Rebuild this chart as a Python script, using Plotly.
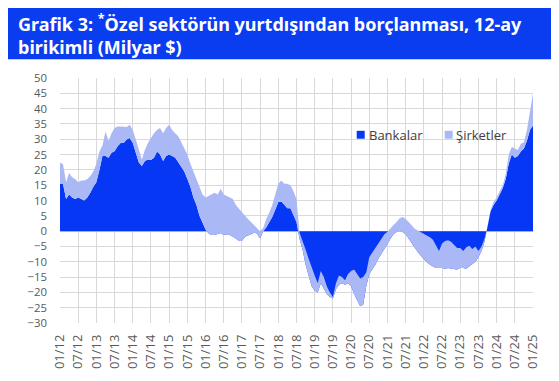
import plotly.graph_objects as go

# Monthly index 0 = 01/12 ... 156 = 01/25
tick_labels = ["01/12", "07/12", "01/13", "07/13", "01/14", "07/14", "01/15", "07/15",
               "01/16", "07/16", "01/17", "07/17", "01/18", "07/18", "01/19", "07/19",
               "01/20", "07/20", "01/21", "07/21", "01/22", "07/22", "01/23", "07/23",
               "01/24", "07/24", "01/25"]

# Lower edge of the light band (dark area reaches from zero to this edge)
bankalar = [
    15.4, 15.4, 10.5, 12, 11, 10.5, 11, 10.5, 10, 11, 12.5, 14.5,
    16, 20, 24.5, 24.5, 24, 25.6, 26.1, 27.7, 28.8, 28.8, 29.9, 30.4,
    28.8, 25.6, 22.4, 21.3, 22.9, 23.4, 23.2, 24, 26, 25, 22.9, 24.5,
    25, 24.5, 24, 22.5, 21, 19.5, 17, 14.5, 11, 8.5, 5, 2.5,
    0.5, -0.8, -1.3, -1.3, -1, -0.6, -1.3, -1, -1.3, -1.8, -2.4, -3.2,
    -3.2, -1.8, -1.5, -1, -0.5, -0.8, -2.4, 0, 1.2, 3, 4.6, 7,
    9.5, 9.7, 8.5, 7.5, 7.5, 5.5, 3, -2.5, -6, -11, -15, -18,
    -19.5, -20, -17, -19, -20.5, -21.5, -22, -19, -17.5, -17, -17.5, -17,
    -18, -20.5, -22.5, -24.5, -24, -18, -14, -12.5, -11, -9, -7.5, -6,
    -4.2, -2.5, -1, -0.3, 0, -0.3, -1, -2.5, -4, -5.5, -6.8, -8,
    -9.2, -10.2, -11, -11.5, -12, -12, -12, -12.3, -12, -12.3, -12.5, -12.5,
    -12, -12, -12.3, -11.5, -11, -10, -8.5, -6.5, -3.5, 1, 6.5, 8.5,
    10, 12, 14, 17, 22, 25, 24, 24.5, 26, 27, 29.5, 33,
    34.5,
]

# Upper edge of the light band (cumulative total)
toplam = [
    22.4, 21.8, 16, 19, 17.6, 17, 16, 16.5, 16.5, 17, 18, 19.5,
    22, 26, 28, 32.5, 29.5, 32, 33.7, 34.2, 34.2, 34, 34, 34.7,
    33, 29.9, 26.7, 23.4, 26.5, 28.8, 30.4, 32, 33, 33.7, 32, 33.7,
    34.7, 33, 32, 31, 29, 27, 25, 22, 19.5, 17, 14, 12,
    11, 11.5, 11.8, 12.5, 12, 13.8, 12, 11.5, 11, 10.5, 8.5, 7.3,
    6, 5, 4, 3, 2, 0.8, 0, 1, 4, 6, 8.5, 12,
    15.5, 16.5, 15.5, 15.5, 15, 13, 10.5, -0.5, -3, -6, -9, -12,
    -14.5, -17, -13, -15, -18, -20, -21.5, -17, -14.5, -15, -16, -14,
    -13, -12.5, -14, -15.5, -15, -13.5, -8.5, -7, -5.5, -4, -2.5, -1,
    -0.2, 1, 2, 3, 4.2, 4.6, 4, 3, 1.8, 0.8, 0.2, -0.3,
    -1, -1.5, -2, -2.8, -4.5, -6.5, -4, -3.2, -3, -3.5, -4.5, -5.5,
    -5.5, -6.5, -5.3, -4.8, -5.8, -5, -6.5, -5, -2.5, 1.5, 7, 9.5,
    11, 13, 15, 18.5, 25, 27.5, 27, 26.5, 28.5, 29, 33, 38.5,
    45,
]

sirketler = [round(t - b, 2) for t, b in zip(toplam, bankalar)]

months = list(range(len(bankalar)))
tick_vals = list(range(0, len(bankalar), 6))

DARK = "#0537F4"
LIGHT = "#AAB9F6"
BAR = "#0A3CF0"

fig = go.Figure()
fig.add_trace(go.Scatter(
    x=months, y=bankalar, name="Bankalar", mode="lines",
    line=dict(width=0, color=DARK), fill="tozeroy", fillcolor=DARK,
    showlegend=False,
))
fig.add_trace(go.Scatter(
    x=months, y=[b + s for b, s in zip(bankalar, sirketler)], name="Şirketler",
    mode="lines", line=dict(width=0, color=LIGHT), fill="tonexty", fillcolor=LIGHT,
    showlegend=False,
))

# page body has an 8px margin, so work in coordinates shifted by 8px
OFF = 8
W, H = 559 - OFF, 381 - OFF
L, R, T, B = 60.3 - OFF, 533.3 - OFF, 77.5 - OFF, 325.7 - OFF
pw, ph = R - L, B - T


def px(x):
    return (x - OFF - L) / pw


def py(y):
    return (B - (y - OFF)) / ph


shapes = [
    dict(type="rect", xref="paper", yref="paper", x0=px(4), x1=px(555),
         y0=py(58.5), y1=py(5), fillcolor=BAR, line=dict(width=0), layer="below"),
    dict(type="rect", xref="paper", yref="paper", x0=px(357), x1=px(365),
         y0=py(139), y1=py(131), fillcolor=DARK, line=dict(width=0)),
    dict(type="rect", xref="paper", yref="paper", x0=px(445), x1=px(453),
         y0=py(139), y1=py(131), fillcolor=LIGHT, line=dict(width=0)),
]

title_font = dict(family="Noto Sans", size=18, color="white", weight="bold")
legend_font = dict(family="Open Sans", size=13, color="#404040")
annotations = [
    dict(text="Grafik 3: <sup>*</sup>Özel sektörün yurtdışından borçlanması, 12-ay"
              "<br>birikimli (Milyar $)",
         xref="paper", yref="paper", x=px(16), y=py(33), xanchor="left",
         yanchor="middle", align="left", showarrow=False, font=title_font),
    dict(text="Bankalar", xref="paper", yref="paper", x=px(367.5), y=py(135),
         xanchor="left", yanchor="middle", showarrow=False, font=legend_font),
    dict(text="Şirketler", xref="paper", yref="paper", x=px(454.5), y=py(135),
         xanchor="left", yanchor="middle", showarrow=False, font=legend_font),
]

fig.update_layout(
    width=W, height=H,
    margin=dict(l=L, r=W - R, t=T, b=H - B, pad=0),
    paper_bgcolor="white", plot_bgcolor="white",
    shapes=shapes, annotations=annotations,
    showlegend=False,
)
fig.update_xaxes(
    range=[0, len(bankalar) - 1], tickmode="array", tickvals=tick_vals,
    ticktext=tick_labels, tickangle=-90, showgrid=True, gridcolor="#D9D9D9",
    gridwidth=1, zeroline=False, showline=False, ticks="",
    ticklabelstandoff=8,
    tickfont=dict(family="Open Sans", size=13, color="#595959"),
)
fig.update_yaxes(
    range=[-30, 50], dtick=5, tick0=0, showgrid=True, gridcolor="#D9D9D9",
    gridwidth=1, zeroline=False, showline=False, ticks="",
    ticklabelstandoff=12,
    tickfont=dict(family="Open Sans", size=11.4, color="#595959"),
)

fig.write_html("out.html")
